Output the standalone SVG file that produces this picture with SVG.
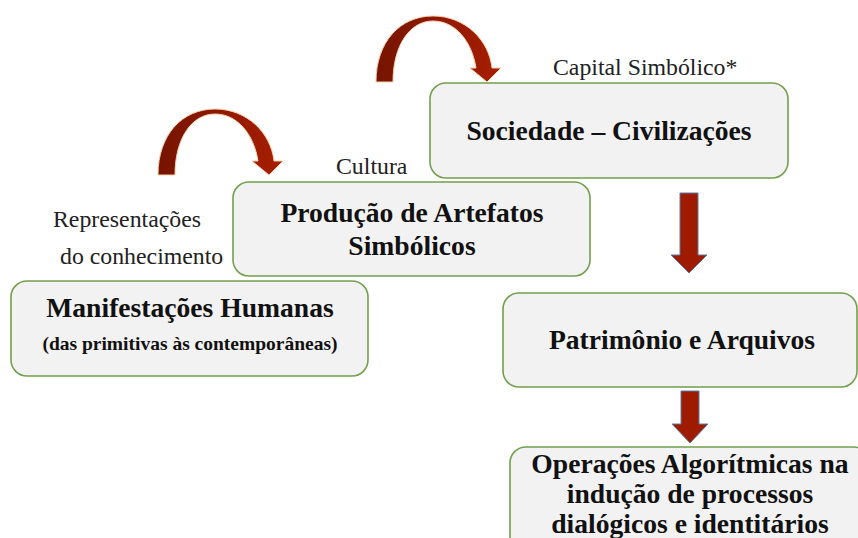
<svg xmlns="http://www.w3.org/2000/svg" xmlns:xlink="http://www.w3.org/1999/xlink" width="858" height="538" viewBox="0 0 858 538">
<style>
.box{fill:#f2f2f2;stroke:#72a04e;stroke-width:1.6}
.t{font-family:"Liberation Serif","Times New Roman",serif;font-weight:bold;font-size:27.6px;fill:#111;text-anchor:middle}
.s{font-size:19.5px}
.lbl{font-family:"Liberation Serif","Times New Roman",serif;font-size:23.8px;fill:#222}
.down{fill:#9e1b00;stroke:#5a7aa6;stroke-width:1}
.curve{fill:url(#cg);stroke:#f6cfae;stroke-width:1}
</style>
<defs>
<linearGradient id="cg" x1="0" y1="0" x2="1" y2="0">
<stop offset="0" stop-color="#761400"/>
<stop offset="1" stop-color="#a81e00"/>
</linearGradient>
<path id="carrow" d="M376,82 C376,42 400,16 433,16 C465,16 489,40 492,68 L501,68 L487,82 L470,68 L476,68 C472,42 456,21 433,21 C410,21 393,45 393,82 Z"/>
</defs>
<rect width="858" height="538" fill="#ffffff"/>
<g id="connectors">
<use xlink:href="#carrow" class="curve"/>
<use xlink:href="#carrow" class="curve" transform="translate(-218,93)"/>
<path class="down" d="M680,193 L698,193 L698,255 L707,255 L689,273 L671,255 L680,255 Z"/>
<path class="down" d="M681,391 L699,391 L699,424 L708,424 L690,443 L672,424 L681,424 Z"/>
</g>
<g id="label-capital"><text class="lbl" x="553" y="75">Capital Simbólico*</text></g>
<g id="label-cultura"><text class="lbl" x="336" y="174">Cultura</text></g>
<g id="label-representacoes"><text class="lbl" x="53" y="227">Representações</text><text class="lbl" x="60" y="264">do conhecimento</text></g>
<g id="node-sociedade">
<rect class="box" x="430" y="83" width="358" height="95" rx="16"/>
<text class="t" x="609" y="140">Sociedade – Civilizações</text>
</g>
<g id="node-producao">
<rect class="box" x="233" y="182" width="357" height="94" rx="16"/>
<text class="t" x="412" y="222">Produção de Artefatos</text>
<text class="t" x="412" y="255">Simbólicos</text>
</g>
<g id="node-manifestacoes">
<rect class="box" x="11" y="281" width="357" height="95" rx="16"/>
<text class="t" x="190" y="317">Manifestações Humanas</text>
<text class="t s" x="190" y="350">(das primitivas às contemporâneas)</text>
</g>
<g id="node-patrimonio">
<rect class="box" x="503" y="293" width="354" height="94" rx="16"/>
<text class="t" x="682" y="349">Patrimônio e Arquivos</text>
</g>
<g id="node-operacoes">
<rect class="box" x="510" y="447" width="360" height="110" rx="16"/>
<text class="t" x="690" y="473">Operações Algorítmicas na</text>
<text class="t" x="690" y="503">indução de processos</text>
<text class="t" x="690" y="533">dialógicos e identitários</text>
</g>
</svg>
